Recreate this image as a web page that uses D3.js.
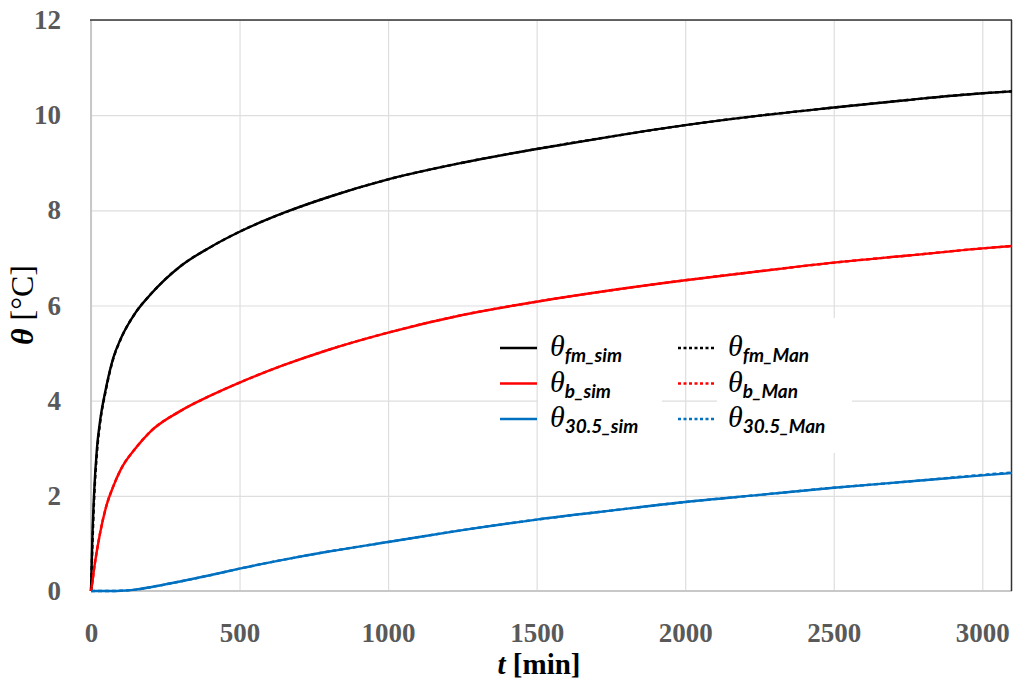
<!DOCTYPE html>
<html>
<head>
<meta charset="utf-8">
<script src="https://cdn.jsdelivr.net/npm/d3@7"></script>
<style>
  body { margin: 0; background: #fff; }
</style>
</head>
<body>
<div id="chart"></div>
<script>
const MARGIN = { TOP: 20, BOTTOM: 89, LEFT: 91, RIGHT: 1 }
const WIDTH = 1013 - MARGIN.LEFT - MARGIN.RIGHT
const HEIGHT = 680 - MARGIN.TOP - MARGIN.BOTTOM

// time [min]
const times = [0, 5, 10, 20, 30, 50, 75, 100, 150, 200, 300, 400, 500, 650, 800, 1000, 1250, 1500, 1750, 2000, 2250, 2500, 2750, 3000, 3100]
const fmSim = [0, 1.2, 2.0, 3.0, 3.55, 4.25, 4.9, 5.3, 5.85, 6.23, 6.82, 7.22, 7.55, 7.95, 8.28, 8.65, 9.0, 9.29, 9.55, 9.79, 9.99, 10.16, 10.32, 10.46, 10.5]
const bSim = [0, 0.2, 0.45, 0.85, 1.2, 1.75, 2.2, 2.55, 3.0, 3.35, 3.78, 4.1, 4.38, 4.75, 5.07, 5.43, 5.8, 6.08, 6.32, 6.53, 6.72, 6.9, 7.05, 7.2, 7.25]
const s305Sim = [0, 0, 0, 0, 0, 0, 0, 0.005, 0.03, 0.08, 0.2, 0.33, 0.47, 0.66, 0.83, 1.03, 1.28, 1.5, 1.69, 1.87, 2.02, 2.17, 2.3, 2.43, 2.48]
const fmMan = [0, 1.0, 1.85, 2.9, 3.5, 4.22, 4.88, 5.29, 5.85, 6.23, 6.82, 7.22, 7.55, 7.95, 8.28, 8.65, 9.0, 9.29, 9.55, 9.79, 9.99, 10.16, 10.32, 10.46, 10.5]
const bMan = [0, 0.2, 0.45, 0.85, 1.2, 1.75, 2.2, 2.55, 3.0, 3.35, 3.78, 4.1, 4.38, 4.75, 5.07, 5.43, 5.8, 6.08, 6.32, 6.53, 6.72, 6.9, 7.05, 7.2, 7.25]
const s305Man = [0, 0, 0, 0, 0, 0, 0, 0.005, 0.03, 0.08, 0.2, 0.33, 0.47, 0.66, 0.83, 1.03, 1.28, 1.5, 1.69, 1.87, 2.02, 2.17, 2.3, 2.44, 2.49]

const xTicks = [0, 500, 1000, 1500, 2000, 2500, 3000]
const yTicks = [0, 2, 4, 6, 8, 10, 12]

const series = [
  { sub: "fm_sim", values: fmSim, color: "#000000", dash: null, col: 0, row: 0 },
  { sub: "b_sim", values: bSim, color: "#ff0000", dash: null, col: 0, row: 1 },
  { sub: "30.5_sim", values: s305Sim, color: "#0070c0", dash: null, col: 0, row: 2 },
  { sub: "fm_Man", values: fmMan, color: "#000000", dash: "4,3", col: 1, row: 0 },
  { sub: "b_Man", values: bMan, color: "#ff0000", dash: "4,3", col: 1, row: 1 },
  { sub: "30.5_Man", values: s305Man, color: "#0070c0", dash: "4,3", col: 1, row: 2 }
]

const svg = d3.select("#chart")
  .append("svg")
  .attr("width", 1013)
  .attr("height", 680)

const g = svg.append("g")
  .attr("transform", `translate(${MARGIN.LEFT}, ${MARGIN.TOP})`)

const x = d3.scaleLinear().domain([0, 3100]).range([0, WIDTH])
const y = d3.scaleLinear().domain([0, 12]).range([HEIGHT, 0])

// grid + axes
const xAxis = g.append("g")
  .attr("transform", `translate(0, ${HEIGHT})`)
  .call(d3.axisBottom(x).tickValues(xTicks).tickFormat(d3.format("d"))
    .tickSizeInner(-HEIGHT).tickSizeOuter(0).tickPadding(32))
const yAxis = g.append("g")
  .call(d3.axisLeft(y).tickValues(yTicks).tickFormat(d3.format("d"))
    .tickSizeInner(-WIDTH).tickSizeOuter(0).tickPadding(30))

;[xAxis, yAxis].forEach(ax => {
  ax.select(".domain").remove()
  ax.selectAll(".tick line").attr("stroke", "#dedede").attr("stroke-width", 1.2)
  ax.selectAll(".tick text")
    .attr("fill", "#595959")
    .attr("font-family", "'Liberation Serif', 'DejaVu Serif', serif")
    .attr("font-weight", "bold")
    .attr("font-size", 27)
})

// frame
g.append("line").attr("x1", 0).attr("x2", WIDTH).attr("y1", HEIGHT).attr("y2", HEIGHT)
  .attr("stroke", "#c8c8c8").attr("stroke-width", 2)
g.append("line").attr("x1", 0).attr("x2", 0).attr("y1", 0).attr("y2", HEIGHT)
  .attr("stroke", "#c8c8c8").attr("stroke-width", 2)
g.append("line").attr("x1", -1).attr("x2", WIDTH).attr("y1", 0).attr("y2", 0)
  .attr("stroke", "#333").attr("stroke-width", 1.5)
g.append("line").attr("x1", WIDTH - 0.5).attr("x2", WIDTH - 0.5).attr("y1", 0).attr("y2", HEIGHT)
  .attr("stroke", "#333").attr("stroke-width", 1.5)

// curves
const line = d3.line()
  .x((d, i) => x(times[i]))
  .y(d => y(d))
  .curve(d3.curveMonotoneX)

g.selectAll(".curve")
  .data(series)
  .enter()
  .append("path")
  .attr("class", "curve")
  .attr("d", d => line(d.values))
  .attr("fill", "none")
  .attr("stroke", d => d.color)
  .attr("stroke-width", 2.4)
  .attr("stroke-dasharray", d => d.dash)

// legend
const LEG = { X: [409, 587], Y: 328, ROW: 35.5 }

g.append("rect").attr("x", 447).attr("y", 298).attr("width", 124).attr("height", 135).attr("fill", "#fff")
g.append("rect").attr("x", 626).attr("y", 298).attr("width", 135).attr("height", 135).attr("fill", "#fff")

const items = g.selectAll(".leg")
  .data(series)
  .enter()
  .append("g")
  .attr("class", "leg")
  .attr("transform", d => `translate(${LEG.X[d.col]}, ${LEG.Y + d.row * LEG.ROW})`)

items.append("line")
  .attr("x1", 0).attr("x2", 37)
  .attr("y1", 0).attr("y2", 0)
  .attr("stroke", d => d.color)
  .attr("stroke-width", 2.4)
  .attr("stroke-dasharray", d => d.dash ? "3,2.5" : null)

const lt = items.append("text")
  .attr("x", 50)
  .attr("y", 8)
  .attr("fill", "#000")

lt.append("tspan")
  .attr("font-family", "'Liberation Serif', 'DejaVu Serif', serif")
  .attr("font-style", "italic")
  .attr("font-size", 30)
  .text("θ")

lt.append("tspan")
  .attr("dy", 6)
  .attr("font-family", "Lato, 'Open Sans', sans-serif")
  .attr("font-style", "italic")
  .attr("font-weight", "bold")
  .attr("font-size", 19)
  .text(d => d.sub)

// axis titles
const title = g.append("text")
  .attr("x", 448)
  .attr("y", 674 - MARGIN.TOP)
  .attr("text-anchor", "middle")
  .attr("font-family", "'Liberation Serif', 'DejaVu Serif', serif")
  .attr("font-weight", "bold")
  .attr("font-size", 29)
  .attr("fill", "#000")
title.append("tspan").attr("font-style", "italic").text("t")
title.append("tspan").text(" [min]")

const ytitle = svg.append("text")
  .attr("transform", "translate(33, 305) rotate(-90)")
  .attr("text-anchor", "middle")
  .attr("font-family", "'Liberation Serif', 'DejaVu Serif', serif")
  .attr("font-size", 32)
  .attr("fill", "#000")
ytitle.append("tspan").attr("font-style", "italic").attr("font-weight", "bold").text("θ")
ytitle.append("tspan").text(" [°C]")
</script>
</body>
</html>
